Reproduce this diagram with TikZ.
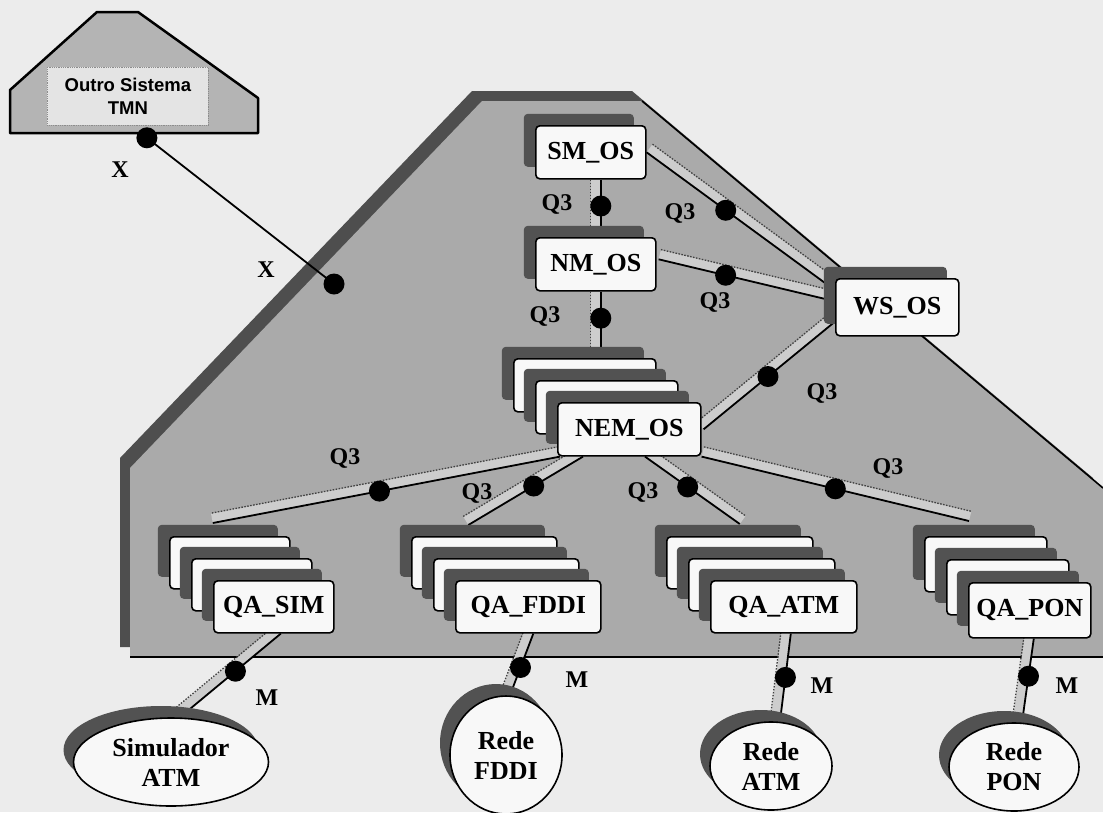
\documentclass[tikz,border=0pt]{standalone}
\usepackage{fontspec}
\setmainfont{Liberation Serif}
\newfontfamily\arialb{Liberation Sans}
\usetikzlibrary{calc,shapes.geometric,shadows}
\pgfdeclarelayer{back}
\pgfdeclarelayer{mid}
\pgfsetlayers{back,mid,main}

\definecolor{bgc}{RGB}{236,236,236}
\definecolor{sysc}{RGB}{170,170,170}
\definecolor{bandc}{RGB}{78,78,78}
\definecolor{shc}{RGB}{82,82,82}
\definecolor{boxc}{RGB}{248,248,248}
\definecolor{stripc}{RGB}{205,205,205}
\definecolor{tmnc}{RGB}{180,180,180}
\definecolor{tmnin}{RGB}{228,228,228}

\tikzset{
  osbox/.style={draw=black, line width=1.6pt, fill=boxc, rounded corners=4pt,
    anchor=north west, inner sep=0pt,
    font=\fontsize{26}{26}\selectfont\bfseries,
    general shadow={shadow xshift=-12pt, shadow yshift=12pt, fill=shc}},
  netell/.style={ellipse, draw=black, line width=1.6pt, fill=boxc, inner sep=0pt,
    align=center, font=\fontsize{26}{30}\selectfont\bfseries,
    general shadow={shadow xshift=-10pt, shadow yshift=12pt, fill=shc}},
  portdot/.style={circle, fill=black, inner sep=0pt, minimum size=21pt},
  lbl/.style={font=\fontsize{24}{24}\selectfont\bfseries, inner sep=0pt},
  solidline/.style={black, line width=1.8pt},
  dotline/.style={black!75, line width=1.3pt, dash pattern=on 1.5pt off 1.5pt},
  stripline/.style={stripc, line width=9pt}
}

% #1 start, #2 end, #3 side angle, #4 its negative
\newcommand\tmnpipe[4]{%
  \begin{pgfonlayer}{mid}
  \draw[stripline] ($(#1)!5pt!#3:(#2)$) -- ($(#2)!5pt!#4:(#1)$);
  \draw[solidline] (#1) -- (#2);
  \draw[dotline] ($(#1)!10pt!#3:(#2)$) -- ($(#2)!10pt!#4:(#1)$);
  \end{pgfonlayer}}

\begin{document}
\begin{tikzpicture}[x=1pt,y=-1pt]
\useasboundingbox (0,0) rectangle (1103,812);
\begin{pgfonlayer}{back}
  \fill[bgc] (0,0) rectangle (1103,812);
  % other TMN system
  \draw[line width=2.5pt, fill=tmnc, line join=round]
    (97,12) -- (138,12) -- (258,98) -- (258,133) -- (10,133) -- (10,90) -- cycle;
  % the system (shadow band then body)
  \fill[bandc] (472,91) -- (632,91) -- (1093,478) -- (1093,647) -- (120,647) -- (120,458) -- cycle;
  \fill[sysc] (482,101) -- (642,101) -- (1103,488) -- (1103,657) -- (130,657) -- (130,468) -- cycle;
  \draw[line width=1.6pt] (642,101) -- (1103,488);
  \draw[line width=1.6pt] (130,657) -- (1103,657);
\end{pgfonlayer}

% TMN inner box
\node[fill=tmnin, draw=black!45, densely dotted, line width=0.8pt, minimum width=161pt, minimum height=58pt,
      inner sep=0pt, anchor=north west, align=center,
      font=\arialb\fontsize{18.5}{23}\selectfont\bfseries] (tmn) at (47,67) {Outro Sistema\\TMN};

% OS boxes
\node[osbox, minimum width=110pt, minimum height=53pt] (sm) at (535,125) {SM\_OS};
\node[osbox, minimum width=120pt, minimum height=53pt] (nm) at (535,237) {NM\_OS};
\node[osbox, minimum width=123pt, minimum height=57pt] (ws) at (835,278) {WS\_OS};
\node[osbox, minimum width=142pt, minimum height=53pt] (nemA) at (513,358) {};
\node[osbox, minimum width=142pt, minimum height=53pt] (nemB) at (535,380) {};
\node[osbox, minimum width=143pt, minimum height=53pt] (nem) at (557,402) {NEM\_OS};

% QA stacks
\node[osbox, minimum width=120pt, minimum height=52pt] (simA) at (169,536) {};
\node[osbox, minimum width=120pt, minimum height=52pt] (simB) at (191,558) {};
\node[osbox, minimum width=120pt, minimum height=52pt] (sim) at (213,580) {QA\_SIM};

\node[osbox, minimum width=145pt, minimum height=52pt] (fddiA) at (411,536) {};
\node[osbox, minimum width=145pt, minimum height=52pt] (fddiB) at (433,558) {};
\node[osbox, minimum width=145pt, minimum height=52pt] (fddi) at (455,580) {QA\_FDDI};

\node[osbox, minimum width=146pt, minimum height=52pt] (atmA) at (666,536) {};
\node[osbox, minimum width=146pt, minimum height=52pt] (atmB) at (688,558) {};
\node[osbox, minimum width=146pt, minimum height=52pt] (atm) at (710,580) {QA\_ATM};

\node[osbox, minimum width=122pt, minimum height=55pt] (ponA) at (924,536) {};
\node[osbox, minimum width=122pt, minimum height=55pt] (ponB) at (946,559) {};
\node[osbox, minimum width=122pt, minimum height=55pt] (pon) at (968,582) {QA\_PON};

% networks
\node[netell, minimum width=195pt, minimum height=88pt] (simnet) at (171,762) {Simulador\\ATM};
\node[netell, minimum width=112pt, minimum height=118pt] (fddinet) at (506,755) {Rede\\FDDI};
\node[netell, minimum width=122pt, minimum height=88pt] (atmnet) at (771,766) {Rede\\ATM};
\node[netell, minimum width=130pt, minimum height=88pt] (ponnet) at (1014,767) {Rede\\PON};

% connector end points
\coordinate (tmnport) at ($(tmn.south)+(19,12)$);
\coordinate (sysport) at (334,284);
\coordinate (c1a) at ($(sm.south)+(10,0)$);
\coordinate (c1b) at ($(nm.north)+(5,0)$);
\coordinate (c2a) at ($(nm.south)+(5,0)$);
\coordinate (c2b) at ($(nemA.north)+(16,0)$);
\coordinate (c3a) at (sm.east);
\coordinate (c3b) at ($(ws.west)+(0,-17)$);
\coordinate (c4a) at ($(nm.east)+(2,-5)$);
\coordinate (c4b) at ($(ws.west)+(0,-6)$);
\coordinate (c5a) at ($(nem.east)+(2,0)$);
\coordinate (c5b) at ($(ws.south west)+(0,-15)$);
\coordinate (c6a) at ($(nem.south west)+(3,0)$);
\coordinate (c6b) at ($(simA.north)+(-17,-13)$);
\coordinate (c7a) at ($(nem.south west)+(26,0)$);
\coordinate (c7b) at ($(fddiA.north)+(-16,-11)$);
\coordinate (c8a) at ($(nem.south west)+(88,0)$);
\coordinate (c8b) at ($(atmA.north)+(0,-12)$);
\coordinate (c9a) at (nem.south east);
\coordinate (c9b) at ($(ponA.north west)+(45,-15)$);
\coordinate (c10a) at ($(sim.south)+(7,0)$);
\coordinate (c10b) at ($(simnet.north)+(9,0)$);
\coordinate (c11a) at ($(fddi.south)+(5,0)$);
\coordinate (c11b) at ($(fddinet.north)+(4,0)$);
\coordinate (c12a) at ($(atm.south)+(7,0)$);
\coordinate (c12b) at ($(atmnet.north)+(9,0)$);
\coordinate (c13a) at ($(pon.south)+(4,0)$);
\coordinate (c13b) at ($(ponnet.north)+(8,0)$);

% connectors
\begin{pgfonlayer}{mid}
  \draw[solidline] (tmnport) -- (sysport);
\end{pgfonlayer}
\tmnpipe{c1a}{c1b}{-90}{90}
\tmnpipe{c2a}{c2b}{-90}{90}
\tmnpipe{c3a}{c3b}{90}{-90}
\tmnpipe{c4a}{c4b}{90}{-90}
\tmnpipe{c5a}{c5b}{90}{-90}
\tmnpipe{c6a}{c6b}{-90}{90}
\tmnpipe{c7a}{c7b}{-90}{90}
\tmnpipe{c8a}{c8b}{90}{-90}
\tmnpipe{c9a}{c9b}{90}{-90}
\tmnpipe{c10a}{c10b}{-90}{90}
\tmnpipe{c11a}{c11b}{-90}{90}
\tmnpipe{c12a}{c12b}{-90}{90}
\tmnpipe{c13a}{c13b}{-90}{90}

% ports
\node[portdot] (dx1) at (tmnport) {};
\node[portdot] (dx2) at (sysport) {};
\node[portdot] (d1) at ($(c1a)!0.46!(c1b)$) {};
\node[portdot] (d2) at ($(c2a)!0.40!(c2b)$) {};
\node[portdot] (d3) at ($(c3a)!0.42!(c3b)$) {};
\node[portdot] (d4) at ($(c4a)!0.38!(c4b)$) {};
\node[portdot] (d5) at ($(c5a)!0.49!(c5b)$) {};
\node[portdot] (d6) at ($(c6a)!0.52!(c6b)$) {};
\node[portdot] (d7) at ($(c7a)!0.43!(c7b)$) {};
\node[portdot] (d8) at ($(c8a)!0.45!(c8b)$) {};
\node[portdot] (d9) at ($(c9a)!0.50!(c9b)$) {};
\node[portdot] (d10) at ($(c10a)!0.45!(c10b)$) {};
\node[portdot] (d11) at ($(c11a)!0.55!(c11b)$) {};
\node[portdot] (d12) at ($(c12a)!0.50!(c12b)$) {};
\node[portdot] (d13) at ($(c13a)!0.45!(c13b)$) {};

% labels
\node[lbl] (lx1) at (120,170) {X};
\node[lbl] (lx2) at (266,270) {X};
\node[lbl] (l1) at (557,204) {Q3};
\node[lbl] (l2) at (545,316) {Q3};
\node[lbl] (l3) at (680,213) {Q3};
\node[lbl] (l4) at (715,302) {Q3};
\node[lbl] (l5) at (822,393) {Q3};
\node[lbl] (l6) at (345,458) {Q3};
\node[lbl] (l7) at (477,493) {Q3};
\node[lbl] (l8) at (643,492) {Q3};
\node[lbl] (l9) at (888,468) {Q3};
\node[lbl] (l10) at (267,698) {M};
\node[lbl] (l11) at (577,680) {M};
\node[lbl] (l12) at (822,686) {M};
\node[lbl] (l13) at (1067,686) {M};
\end{tikzpicture}
\end{document}
